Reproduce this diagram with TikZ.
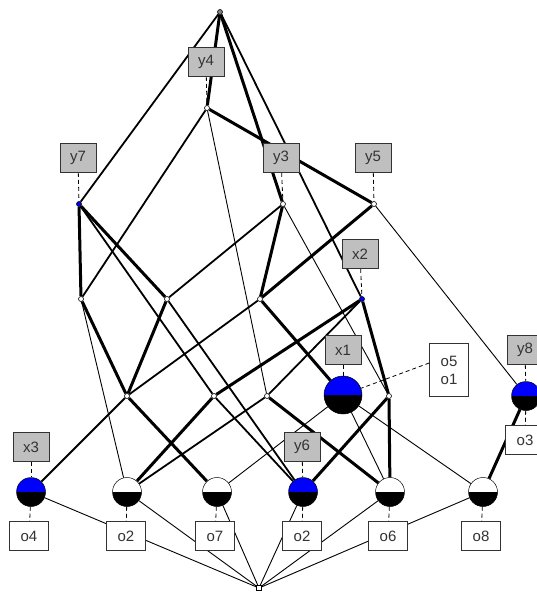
\documentclass[tikz,border=0pt]{standalone}
\usepackage{fontspec}
\setmainfont{Liberation Sans}
\usetikzlibrary{backgrounds}
\begin{document}
\begin{tikzpicture}[x=1pt,y=-1pt,
  every node/.style={font=\fontsize{15}{16}\selectfont, text=black!80},
  dot/.style={circle,draw=black,fill=white,line width=0.6pt,inner sep=0,minimum size=5pt},
  bdot/.style={dot,fill=blue},
  half/.style 2 args={circle,draw=black,line width=0.5pt,inner sep=0,minimum size=#2,
    path picture={\fill[#1] (path picture bounding box.north west) rectangle (path picture bounding box.east);
                  \fill[black] (path picture bounding box.west) rectangle (path picture bounding box.south east);}},
  abox/.style={draw=black!80,fill=black!25,line width=0.7pt,minimum width=36pt,minimum height=29pt,inner sep=0},
  obox/.style={draw=black!80,fill=white,line width=0.7pt,minimum width=39pt,minimum height=29pt,inner sep=0},
  lk/.style={dash pattern=on 4pt off 3pt,line width=0.8pt},
  ethin/.style={line width=0.9pt},
  emid/.style={line width=1.8pt},
  ethick/.style={line width=3pt}
]
\useasboundingbox (0,0) rectangle (537,592);
\clip (0,0) rectangle (537,592);
% concept nodes
\node[dot,fill=black!50] (T) at (220,12) {};
\node[dot] (A) at (207,108) {};
\node[bdot] (P7) at (79,204) {};
\node[dot] (P3) at (283,204) {};
\node[dot] (P5) at (374,204) {};
\node[dot] (B) at (81,299) {};
\node[dot] (C) at (167,299) {};
\node[dot] (D) at (260,299) {};
\node[bdot] (X2) at (362,299) {};
\node[dot] (E) at (127,396) {};
\node[dot] (F) at (214,396) {};
\node[dot] (G) at (267,396) {};
\node[dot] (H) at (389,396) {};
\node[half={blue}{38pt}] (X1) at (343,395) {};
\node[half={blue}{29pt}] (Y8) at (526,396) {};
\node[half={blue}{29pt}] (L1) at (31,492) {};
\node[half={white}{29pt}] (L2) at (127,492) {};
\node[half={white}{29pt}] (L3) at (217,492) {};
\node[half={blue}{29pt}] (L4) at (303,492) {};
\node[half={white}{29pt}] (L5) at (390,492) {};
\node[half={white}{29pt}] (L6) at (483,492) {};
\node[draw=black,fill=white,line width=0.6pt,minimum size=5pt,inner sep=0] (Bot) at (259,588) {};
% labels
\node[abox] (ly4) at (206,62) {y4};
\node[abox] (ly7) at (78,158) {y7};
\node[abox] (ly3) at (281,158) {y3};
\node[abox] (ly5) at (373,158) {y5};
\node[abox] (lx2) at (360,254) {x2};
\node[abox] (lx1) at (343,350) {x1};
\node[abox] (ly8) at (525,350) {y8};
\node[abox] (lx3) at (31,447) {x3};
\node[abox] (ly6) at (302,447) {y6};
\node[obox] (lo4) at (29,536) {o4};
\node[obox] (lo2a) at (126,536) {o2};
\node[obox] (lo7) at (215,536) {o7};
\node[obox] (lo2b) at (302,536) {o2};
\node[obox] (lo6) at (388,536) {o6};
\node[obox] (lo8) at (481,536) {o8};
\node[obox] (lo3) at (525,440) {o3};
\node[obox,minimum height=53pt,align=center] (lo51) at (449,370) {o5\\[2pt]o1};
\coordinate (o51in) at ([yshift=7pt]lo51.west);
\begin{scope}[on background layer]
% dashed label links
\draw[lk] (ly4) -- (A);
\draw[lk] (ly7) -- (P7);
\draw[lk] (ly3) -- (P3);
\draw[lk] (ly5) -- (P5);
\draw[lk] (lx2) -- (X2);
\draw[lk] (lx1) -- (X1);
\draw[lk] (ly8) -- (Y8);
\draw[lk] (lx3) -- (L1);
\draw[lk] (ly6) -- (L4);
\draw[lk] (L1) -- (lo4);
\draw[lk] (L2) -- (lo2a);
\draw[lk] (L3) -- (lo7);
\draw[lk] (L4) -- (lo2b);
\draw[lk] (L5) -- (lo6);
\draw[lk] (L6) -- (lo8);
\draw[lk] (Y8) -- (lo3);
\draw[lk] (o51in) -- (X1);
% lattice edges
\draw[ethick] (T) -- (A);
\draw[emid] (T) -- (P7);
\draw[ethick] (T) -- (P3);
\draw[emid] (T) -- (X2);
\draw[emid] (A) -- (B);
\draw[ethick] (A) -- (P5);
\draw[ethin] (A) -- (G);
\draw[ethick] (P7) -- (B);
\draw[ethick] (P7) -- (C);
\draw[emid] (P7) -- (F);
\draw[ethick] (P3) -- (D);
\draw[emid] (P3) -- (C);
\draw[ethin] (P3) -- (H);
\draw[ethick] (P5) -- (D);
\draw[ethin] (P5) -- (Y8);
\draw[ethick] (X2) -- (F);
\draw[emid] (X2) -- (G);
\draw[ethick] (X2) -- (H);
\draw[ethick] (B) -- (E);
\draw[ethin] (B) -- (L2);
\draw[ethick] (C) -- (E);
\draw[emid] (C) -- (L4);
\draw[emid] (D) -- (E);
\draw[ethick] (D) -- (X1);
\draw[emid] (E) -- (L1);
\draw[ethick] (E) -- (L3);
\draw[ethick] (F) -- (L2);
\draw[emid] (F) -- (L4);
\draw[emid] (G) -- (L2);
\draw[ethick] (G) -- (L5);
\draw[ethick] (H) -- (L4);
\draw[ethick] (H) -- (L5);
\draw[ethin] (X1) -- (L3);
\draw[ethin] (X1) -- (L5);
\draw[ethin] (X1) -- (L6);
\draw[ethick] (Y8) -- (L6);
\foreach \n in {L1,L2,L3,L4,L5,L6} \draw[ethin] (\n) -- (Bot);
\end{scope}
\end{tikzpicture}
\end{document}
